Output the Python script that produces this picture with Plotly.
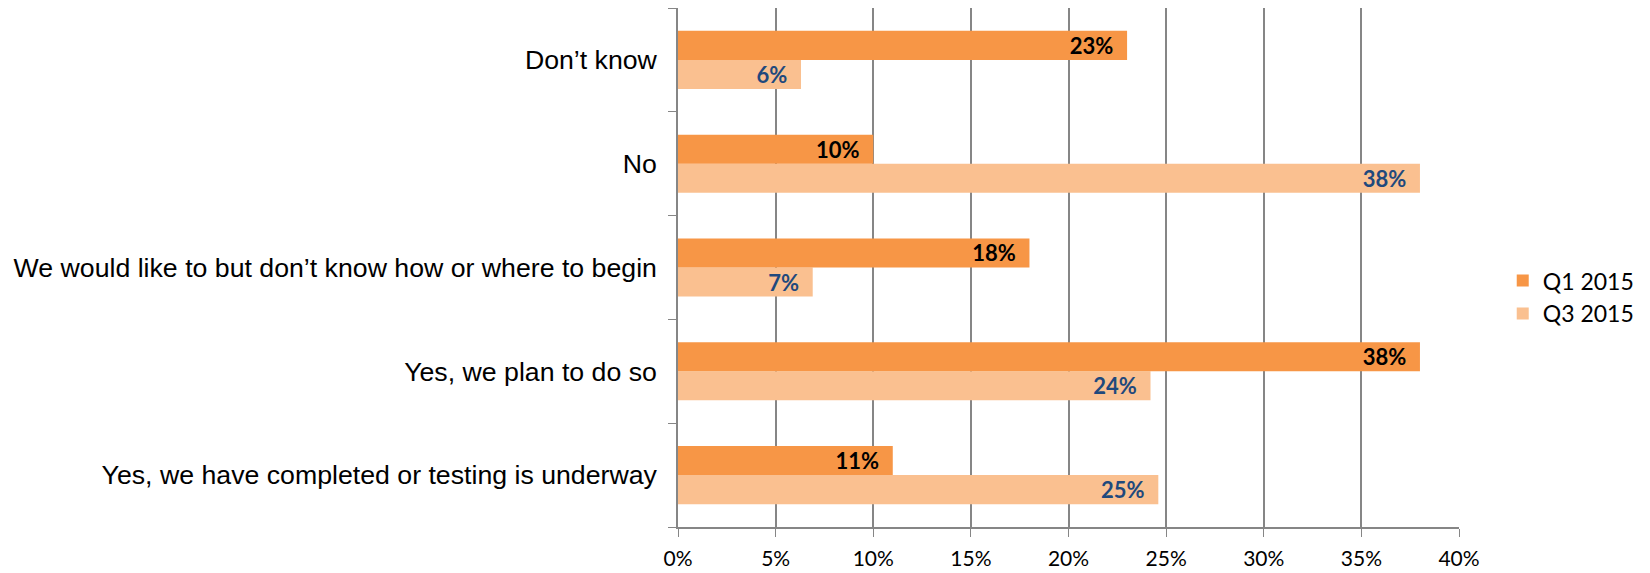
import plotly.graph_objects as go

categories = [
    "Yes, we have completed or testing is underway",
    "Yes, we plan to do so",
    "We would like to but don\u2019t know how or where to begin",
    "No",
    "Don\u2019t know",
]
q1_2015 = [11.0, 38.0, 18.0, 10.0, 23.0]
q3_2015 = [24.6, 24.2, 6.9, 38.0, 6.3]
q1_labels = ["11%", "38%", "18%", "10%", "23%"]
q3_labels = ["25%", "24%", "7%", "38%", "6%"]
x_ticks = [0, 5, 10, 15, 20, 25, 30, 35, 40]
x_tick_text = ["0%", "5%", "10%", "15%", "20%", "25%", "30%", "35%", "40%"]

fig = go.Figure()
fig.add_trace(go.Bar(
    y=categories, x=q3_2015, name="Q3 2015", orientation="h",
    marker=dict(color="#FAC090", line=dict(width=0)),
    text=q3_labels, texttemplate="%{text}\u00a0\u00a0",
    textposition="inside", insidetextanchor="end",
    textfont=dict(family="Lato", size=22, color="#1F497D", weight="bold"),
    constraintext="none",
))
fig.add_trace(go.Bar(
    y=categories, x=q1_2015, name="Q1 2015", orientation="h",
    marker=dict(color="#F79646", line=dict(width=0)),
    text=q1_labels, texttemplate="%{text}\u00a0\u00a0",
    textposition="inside", insidetextanchor="end",
    textfont=dict(family="Lato", size=22, color="#000000", weight="bold"),
    constraintext="none",
))

fig.update_layout(
    width=1650, height=573,
    margin=dict(l=678, r=191, t=8, b=46, autoexpand=False),
    paper_bgcolor="white", plot_bgcolor="white",
    barmode="group", bargap=0.44, bargroupgap=0,
    showlegend=True,
    legend=dict(
        traceorder="reversed", x=1.056, y=0.443, xanchor="left", yanchor="middle",
        font=dict(family="Lato", size=23, color="#000000"),
    ),
    xaxis=dict(
        range=[0, 40], tickvals=x_ticks, ticktext=x_tick_text,
        showgrid=True, gridcolor="#868686", gridwidth=1.5,
        showline=True, linecolor="#868686", linewidth=1.5,
        ticks="outside", ticklen=8, tickcolor="#868686",
        tickfont=dict(family="Lato", size=21, color="#000000"),
        ticklabelstandoff=4, automargin=False,
        zeroline=False, fixedrange=True,
    ),
    yaxis=dict(
        showline=True, linecolor="#868686", linewidth=1.5,
        ticks="outside", tickson="boundaries", ticklen=8, tickcolor="#868686",
        tickfont=dict(family="Liberation Sans", size=26.7, color="#000000"),
        showgrid=False, ticklabelstandoff=14, automargin=False,
        fixedrange=True,
    ),
)

fig.write_html(
    "out.html",
    config={"displayModeBar": False},
    post_script="document.body.style.margin='0';",
)
